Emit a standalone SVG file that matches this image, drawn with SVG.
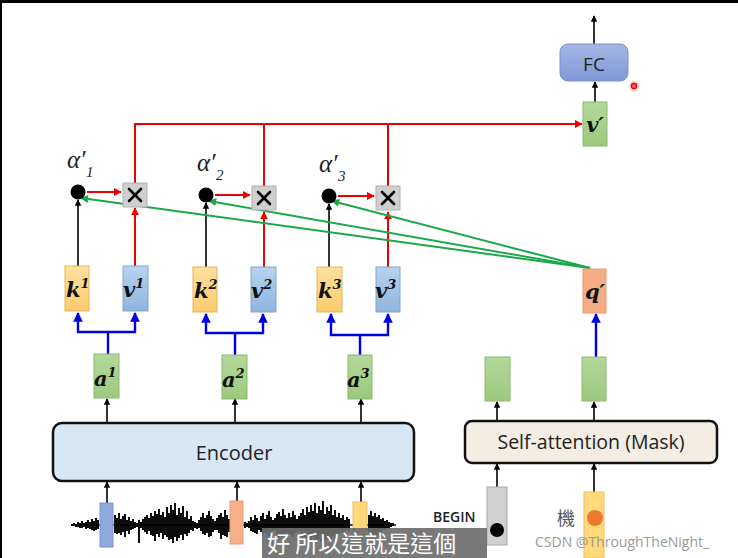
<svg xmlns="http://www.w3.org/2000/svg" width="738" height="558" viewBox="0 0 738 558">
<defs>
<marker id="ab" viewBox="0 0 10 10" refX="9" refY="5" markerWidth="4" markerHeight="4" orient="auto"><path d="M0,0 L10,5 L0,10 z" fill="#000"/></marker>
<marker id="ar" viewBox="0 0 10 10" refX="9" refY="5" markerWidth="4" markerHeight="4" orient="auto"><path d="M0,0 L10,5 L0,10 z" fill="#e00"/></marker>
<marker id="abl" viewBox="0 0 10 10" refX="9" refY="5" markerWidth="4" markerHeight="4" orient="auto"><path d="M0,0 L10,5 L0,10 z" fill="#0000e0"/></marker>
<marker id="ag" viewBox="0 0 10 10" refX="9" refY="5" markerWidth="4" markerHeight="4" orient="auto"><path d="M0,0 L10,5 L0,10 z" fill="#1aa84a"/></marker>
<linearGradient id="gv" x1="0" y1="0" x2="0" y2="1"><stop offset="0" stop-color="#b7d3ee"/><stop offset="1" stop-color="#8fb4de"/></linearGradient>
<linearGradient id="gk" x1="0" y1="0" x2="0" y2="1"><stop offset="0" stop-color="#ffe0a0"/><stop offset="1" stop-color="#fbcc6e"/></linearGradient>
<linearGradient id="ga" x1="0" y1="0" x2="0" y2="1"><stop offset="0" stop-color="#b4d89b"/><stop offset="1" stop-color="#9cc97e"/></linearGradient>
<linearGradient id="gfc" x1="0" y1="0" x2="0" y2="1"><stop offset="0" stop-color="#a4b6e4"/><stop offset="1" stop-color="#7f98d6"/></linearGradient>
<radialGradient id="gdot"><stop offset="0" stop-color="#ff4040" stop-opacity="0.9"/><stop offset="1" stop-color="#ff4040" stop-opacity="0"/></radialGradient>
</defs>
<style>
.k{fill:url(#gk);stroke:#e3b55a;stroke-width:1}
.v{fill:url(#gv);stroke:#7ea6d3;stroke-width:1}
.a{fill:url(#ga);stroke:#8ab870;stroke-width:1}
.q{fill:#f4ad84;stroke:#e89a6c;stroke-width:1}
.mul{fill:#cfcfcf;stroke:#b0b0b0;stroke-width:1}
.lbl{font-family:"DejaVu Serif","Liberation Serif",serif;font-style:italic;font-weight:bold;font-size:21px;fill:#111}
.sup{font-size:13px}
.alp{font-family:"Liberation Serif",serif;font-style:italic;font-size:25px;fill:#222}
.sub{font-family:"Liberation Serif",serif;font-style:italic;font-size:15px;fill:#222}
.sans{font-family:"Open Sans","Liberation Sans",sans-serif;fill:#222}
.bk{stroke:#000;stroke-width:1.6;fill:none;marker-end:url(#ab)}
.rd{stroke:#e00;stroke-width:2;fill:none}
.rda{stroke:#e00;stroke-width:2;fill:none;marker-end:url(#ar)}
.bl{stroke:#0000e0;stroke-width:2.4;fill:none}
.bla{stroke:#0000e0;stroke-width:2.4;fill:none;marker-end:url(#abl)}
.gr{stroke:#1aa84a;stroke-width:2;fill:none;marker-end:url(#ag)}
.xm{stroke:#000;stroke-width:2.6;stroke-linecap:round}
</style>
<rect width="738" height="558" fill="#fff"/>
<rect x="0" y="0" width="738" height="3" fill="#000"/>
<rect x="0" y="0" width="2" height="558" fill="#000"/>

<g id="connectors">
  <line class="bk" x1="594" y1="44" x2="594" y2="16"/>
  <line class="bk" x1="595" y1="102" x2="595" y2="82"/>
  <path class="rda" d="M135,183 V124 H582"/>
  <line class="rd" x1="264" y1="124" x2="264" y2="186"/>
  <line class="rd" x1="388" y1="124" x2="388" y2="186"/>
  <line class="rda" x1="87" y1="192" x2="121" y2="192"/>
  <line class="rda" x1="215" y1="195" x2="250" y2="195"/>
  <line class="rda" x1="338" y1="196" x2="374" y2="196"/>
  <line class="bk" x1="78" y1="266" x2="78" y2="200"/>
  <line class="bk" x1="206" y1="267" x2="206" y2="203"/>
  <line class="bk" x1="329" y1="267" x2="329" y2="204"/>
  <line class="rda" x1="135" y1="266" x2="135" y2="208"/>
  <line class="rda" x1="264" y1="267" x2="264" y2="212"/>
  <line class="rda" x1="388" y1="267" x2="388" y2="212"/>
  <line class="gr" x1="590" y1="268" x2="81" y2="198"/>
  <line class="gr" x1="590" y1="268" x2="209" y2="201"/>
  <line class="gr" x1="590" y1="268" x2="332" y2="201"/>
  <path class="bl" d="M108,354 V332"/>
  <path class="bla" d="M108,332 H78 V313"/>
  <path class="bla" d="M108,332 H135 V313"/>
  <path class="bl" d="M235,355 V333"/>
  <path class="bla" d="M235,333 H206 V314"/>
  <path class="bla" d="M235,333 H263 V314"/>
  <path class="bl" d="M360,355 V335"/>
  <path class="bla" d="M360,335 H331 V314"/>
  <path class="bla" d="M360,335 H388 V314"/>
  <line class="bk" x1="107" y1="423" x2="107" y2="399"/>
  <line class="bk" x1="235" y1="423" x2="235" y2="399"/>
  <line class="bk" x1="361" y1="423" x2="361" y2="399"/>
  <line class="bk" x1="107" y1="503" x2="107" y2="482"/>
  <line class="bk" x1="237" y1="501" x2="237" y2="482"/>
  <line class="bk" x1="361" y1="502" x2="361" y2="482"/>
  <line class="bk" x1="497" y1="421" x2="497" y2="402"/>
  <line class="bk" x1="594" y1="421" x2="594" y2="402"/>
  <line class="bk" x1="497" y1="487" x2="497" y2="464"/>
  <line class="bk" x1="594" y1="492" x2="594" y2="464"/>
  <line class="bla" x1="596" y1="357" x2="596" y2="314"/>
</g>

<g id="fc">
  <rect x="560" y="44" width="68" height="37" rx="8" fill="url(#gfc)" stroke="#7a90c8" stroke-width="1"/>
  <text x="594" y="71" text-anchor="middle" class="sans" font-size="19">FC</text>
</g>
<g id="cursor-dot">
  <circle cx="634" cy="86" r="6" fill="url(#gdot)"/>
  <circle cx="634" cy="86" r="2.5" fill="none" stroke="#e00" stroke-width="1.3"/>
</g>
<g id="vprime">
  <rect class="a" x="583" y="102" width="24" height="44"/>
  <text class="lbl" x="595" y="132" text-anchor="middle">v′</text>
</g>

<g id="alpha1">
  <circle cx="78" cy="192" r="7.5" fill="#000"/>
  <text class="alp" x="67" y="168">α′</text>
  <text class="sub" x="86" y="177">1</text>
</g>
<g id="alpha2">
  <circle cx="206" cy="195" r="7.5" fill="#000"/>
  <text class="alp" x="197" y="171">α′</text>
  <text class="sub" x="216" y="180">2</text>
</g>
<g id="alpha3">
  <circle cx="329" cy="196" r="7.5" fill="#000"/>
  <text class="alp" x="319" y="172">α′</text>
  <text class="sub" x="338" y="181">3</text>
</g>

<g id="mul1"><rect class="mul" x="123" y="183" width="24" height="24"/><path class="xm" d="M129,189 L141,201 M141,189 L129,201"/></g>
<g id="mul2"><rect class="mul" x="252" y="186" width="24" height="24"/><path class="xm" d="M258,192 L270,204 M270,192 L258,204"/></g>
<g id="mul3"><rect class="mul" x="376" y="186" width="24" height="24"/><path class="xm" d="M382,192 L394,204 M394,192 L382,204"/></g>

<g id="k1"><rect class="k" x="65" y="266" width="24" height="45"/><text class="lbl" x="66" y="297">k<tspan class="sup" dy="-9">1</tspan></text></g>
<g id="v1"><rect class="v" x="123" y="266" width="25" height="45"/><text class="lbl" x="123" y="297">v<tspan class="sup" dy="-9">1</tspan></text></g>
<g id="k2"><rect class="k" x="193" y="267" width="24" height="45"/><text class="lbl" x="194" y="298">k<tspan class="sup" dy="-9">2</tspan></text></g>
<g id="v2"><rect class="v" x="251" y="267" width="25" height="45"/><text class="lbl" x="251" y="298">v<tspan class="sup" dy="-9">2</tspan></text></g>
<g id="k3"><rect class="k" x="317" y="267" width="25" height="45"/><text class="lbl" x="318" y="298">k<tspan class="sup" dy="-9">3</tspan></text></g>
<g id="v3"><rect class="v" x="376" y="267" width="24" height="45"/><text class="lbl" x="375" y="298">v<tspan class="sup" dy="-9">3</tspan></text></g>

<g id="a1"><rect class="a" x="94" y="354" width="25" height="44"/><text class="lbl" x="94" y="386">a<tspan class="sup" dy="-9">1</tspan></text></g>
<g id="a2"><rect class="a" x="222" y="355" width="25" height="44"/><text class="lbl" x="222" y="387">a<tspan class="sup" dy="-9">2</tspan></text></g>
<g id="a3"><rect class="a" x="348" y="355" width="24" height="44"/><text class="lbl" x="347" y="387">a<tspan class="sup" dy="-9">3</tspan></text></g>

<g id="qprime">
  <rect class="q" x="583" y="269" width="23" height="44"/>
  <text class="lbl" x="595" y="299" text-anchor="middle">q′</text>
</g>

<g id="encoder">
  <rect x="53" y="423" width="361" height="58" rx="9" fill="#d8e7f5" stroke="#111" stroke-width="2.5"/>
  <text x="234" y="460" text-anchor="middle" class="sans" font-size="20">Encoder</text>
</g>

<g id="waveform">
  <line x1="72" y1="525" x2="396" y2="525" stroke="#000" stroke-width="1.4"/>
  <path stroke="#000" stroke-width="1.9" fill="none" d="M72,524V526 M74,523V526 M76,524V527 M78,522V527 M80,523V528 M82,521V528 M84,523V527 M86,522V529 M88,520V528 M90,522V529 M92,519V530 M94,521V531 M96,518V530 M98,520V529 M115,515V533 M117,518V534 M119,513V533 M121,519V535 M123,516V532 M125,514V537 M127,520V531 M129,517V534 M131,521V530 M133,519V529 M135,522V528 M137,523V527 M139,520V543 M141,522V528 M143,519V530 M145,517V532 M147,515V534 M149,518V531 M151,513V535 M153,516V536 M155,511V541 M157,514V534 M159,509V537 M161,515V533 M163,512V539 M165,517V535 M167,507V537 M169,513V540 M171,505V539 M173,510V543 M175,503V537 M177,515V541 M179,508V538 M181,513V535 M183,506V540 M185,517V534 M187,511V536 M189,519V533 M191,516V530 M193,521V531 M195,522V528 M197,523V529 M199,520V528 M201,517V531 M203,513V534 M205,518V535 M207,515V533 M209,511V537 M211,516V536 M213,519V532 M215,521V530 M217,518V530 M219,515V533 M221,513V539 M223,517V535 M225,510V536 M227,515V537 M229,519V532 M245,522V528 M247,523V527 M249,521V528 M251,517V531 M253,520V532 M255,515V533 M257,518V534 M259,521V530 M261,516V532 M263,513V535 M265,519V533 M267,515V534 M269,511V536 M271,517V535 M273,520V531 M275,518V530 M277,514V534 M279,512V537 M281,516V535 M283,509V536 M285,515V538 M287,518V533 M289,513V534 M291,517V535 M293,511V537 M295,515V533 M297,519V532 M299,516V531 M301,513V535 M303,509V539 M305,515V537 M307,507V538 M309,512V540 M311,505V541 M313,511V537 M315,503V543 M317,513V540 M319,506V539 M321,510V542 M323,501V538 M325,514V541 M327,507V539 M329,511V537 M331,505V540 M333,515V536 M335,510V538 M337,517V535 M339,513V534 M341,518V533 M343,515V532 M345,520V531 M347,517V530 M349,519V532 M369,515V533 M371,511V535 M373,516V537 M375,513V534 M377,517V535 M379,515V532 M381,519V533 M383,518V530 M385,521V530 M387,520V528 M389,522V529 M391,523V527 M393,523V526"/>
</g>
<g id="in1"><rect x="100" y="503" width="13" height="44" fill="#8fa9dc" stroke="#7b95cc" stroke-width="1"/></g>
<g id="in2"><rect x="230" y="501" width="13" height="43" fill="#f4b08a" stroke="#e99a70" stroke-width="1"/></g>
<g id="in3"><rect x="353" y="502" width="14" height="36" fill="#ffd97a" stroke="#e9c060" stroke-width="1"/></g>

<g id="selfattn">
  <rect x="465" y="421" width="252" height="42" rx="7" fill="#f3ede4" stroke="#111" stroke-width="2.5"/>
  <text x="591" y="449" text-anchor="middle" class="sans" font-size="19.5">Self-attention (Mask)</text>
</g>
<g id="out1"><rect class="a" x="485" y="357" width="25" height="44"/></g>
<g id="out2"><rect class="a" x="582" y="357" width="24" height="44"/></g>

<g id="begin">
  <text x="433" y="522" class="sans" font-size="14" font-weight="600">BEGIN</text>
  <rect x="487" y="487" width="20" height="58" fill="#d0d0d0" stroke="#a8a8a8" stroke-width="1"/>
  <circle cx="497" cy="530" r="7" fill="#000"/>
</g>
<g id="ji">
  <text x="557" y="525" font-family="Noto Sans CJK TC, sans-serif" font-size="18" fill="#555">機</text>
  <rect x="584" y="492" width="20" height="66" fill="#ffd97a" stroke="#eec060" stroke-width="1"/>
  <circle cx="595" cy="518" r="8" fill="#ec7a2e"/>
</g>
<g id="subtitle">
  <rect x="262" y="528" width="225" height="30" fill="#6e6e6e" fill-opacity="0.92"/>
  <text x="267" y="552" font-family="Noto Sans CJK TC, sans-serif" font-size="23" fill="#fff">好 所以這就是這個</text>
</g>
<g id="watermark">
  <text x="535" y="547" font-family="Open Sans, Liberation Sans, sans-serif" font-size="14" fill="#9a9a9a">CSDN @ThroughTheNight_</text>
</g>
</svg>
